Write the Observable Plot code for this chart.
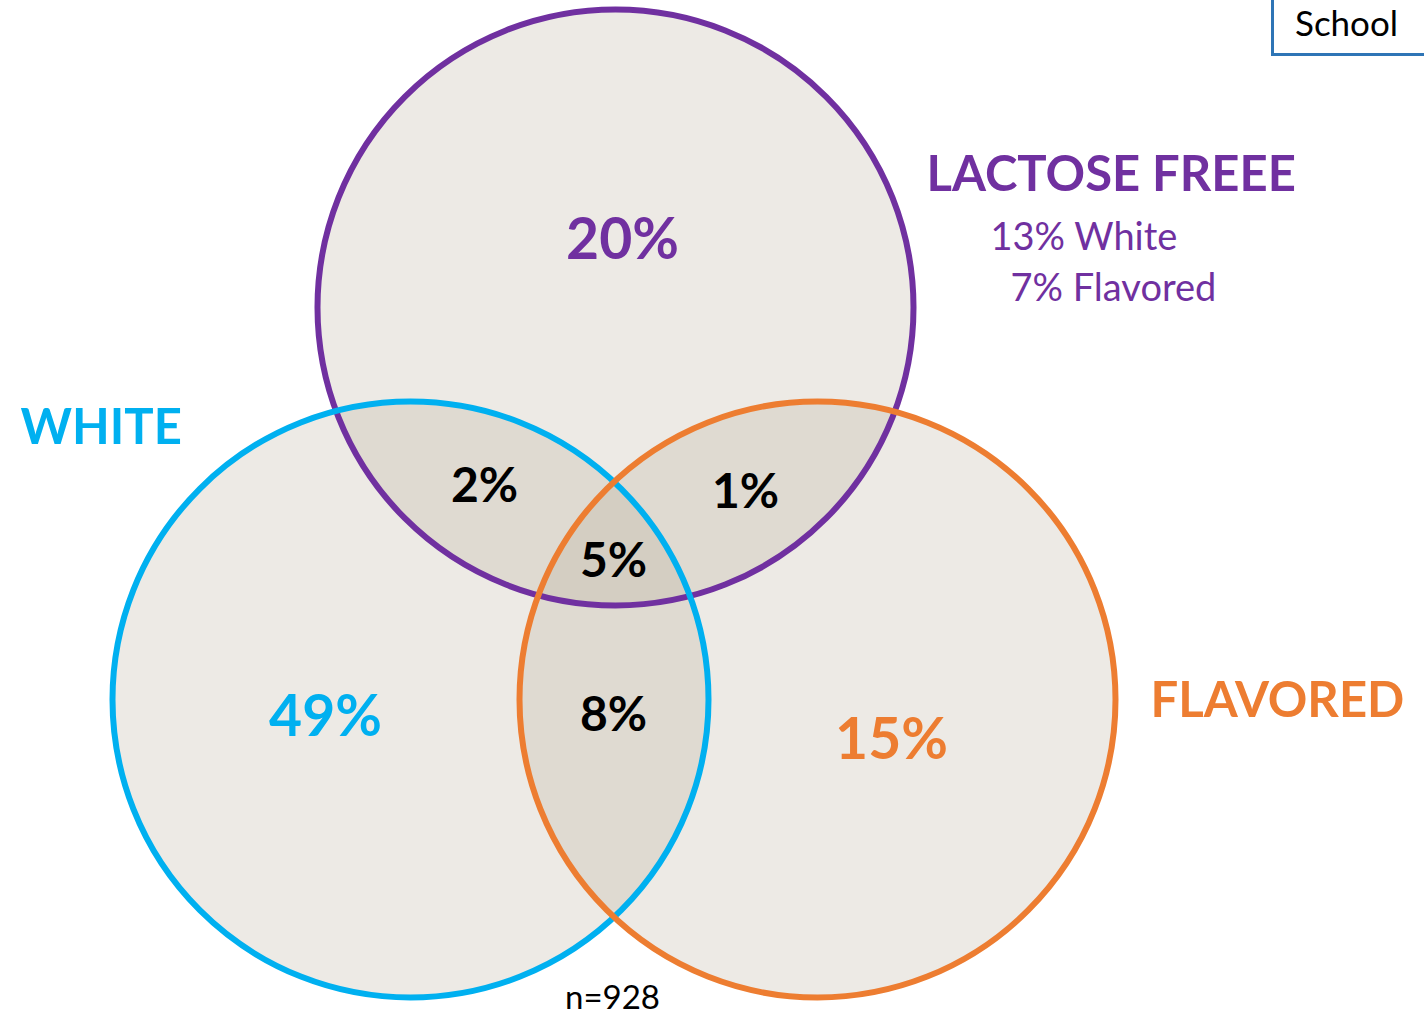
<!DOCTYPE html>
<html>
<head>
<meta charset="utf-8">
<script src="https://cdn.jsdelivr.net/npm/d3@7"></script>
<script src="https://cdn.jsdelivr.net/npm/@observablehq/plot@0.6"></script>
<style>
  html, body { margin: 0; padding: 0; background: #fff; }
  #chart { position: relative; width: 1424px; height: 1015px; overflow: hidden; }
  #school { position: absolute; left: 1271px; top: 0; width: 153px; height: 56px; border: 3px solid #2e75b6; border-top: none; border-right: none; box-sizing: border-box; font-family: Lato, "Open Sans", sans-serif; font-size: 35px; color: #000; padding-left: 21px; padding-top: 4px; line-height: 36px; white-space: nowrap; }
</style>
</head>
<body>
<div id="chart"><div id="school">School</div></div>
<script>
// Sets
const setNames = ["LACTOSE FREEE", "WHITE", "FLAVORED"];
const setColors = ["#7030a0", "#00b0f0", "#ed7d31"];
// circle layout (pixel space)
const setCx = [615, 410, 817];
const setCy = [307, 699, 699];

// Region percentages
const regionLabels = ["20%", "49%", "15%", "2%", "1%", "8%", "5%"];
const regionColors = ["#7030a0", "#00b0f0", "#ed7d31", "#000", "#000", "#000", "#000"];
const regionX = [622, 325, 891, 484, 745, 613, 613];
const regionY = [240, 717, 740, 486, 492, 715, 561];

// Lactose free breakdown
const subLabels = ["13% White", "7% Flavored"];
const subX = [990, 1010];
const subY = [237, 288];

// Set title positions
const titleX = [926, 20, 1150];
const titleY = [175, 428, 701];

const sampleLabel = "n=928";

const circles = setNames.map((n, i) => ({name: n, color: setColors[i], x: setCx[i], y: setCy[i]}));
const regions = regionLabels.map((l, i) => ({label: l, color: regionColors[i], x: regionX[i], y: regionY[i]}));
const titles = setNames.map((n, i) => ({name: n, color: setColors[i], x: titleX[i], y: titleY[i]}));
const subs = subLabels.map((l, i) => ({label: l, x: subX[i], y: subY[i]}));

const font = "Lato, 'Open Sans', sans-serif";

const plot = Plot.plot({
  width: 1424,
  height: 1015,
  margin: 0,
  x: {domain: [0, 1424], axis: null},
  y: {domain: [1015, 0], axis: null},
  style: {background: "transparent", fontFamily: font},
  marks: [
    Plot.dot(circles, {x: "x", y: "y", r: 298, fill: "#b3a794", fillOpacity: 0.24, stroke: null}),
    Plot.dot(circles, {x: "x", y: "y", r: 298, fill: "none", stroke: "color", strokeWidth: 6}),
    Plot.text(titles, {x: "x", y: "y", text: "name", fill: "color", fontSize: 49, fontWeight: "bold", textAnchor: "start", fontFamily: font}),
    Plot.text(subs, {x: "x", y: "y", text: "label", fill: "#7030a0", fontSize: 38, textAnchor: "start", fontFamily: font}),
    Plot.text(regions.slice(0, 3), {x: "x", y: "y", text: "label", fill: "color", fontSize: 57, fontWeight: "bold", fontFamily: font}),
    Plot.text(regions.slice(3), {x: "x", y: "y", text: "label", fill: "color", fontSize: 48, fontWeight: "bold", fontFamily: font}),
    Plot.text([sampleLabel], {x: 612, y: 998, text: d => d, fill: "#000", fontSize: 33, fontFamily: font})
  ]
});
plot.style.position = "absolute";
plot.style.left = "0";
plot.style.top = "0";
document.getElementById("chart").insertBefore(plot, document.getElementById("school"));
</script>
</body>
</html>
